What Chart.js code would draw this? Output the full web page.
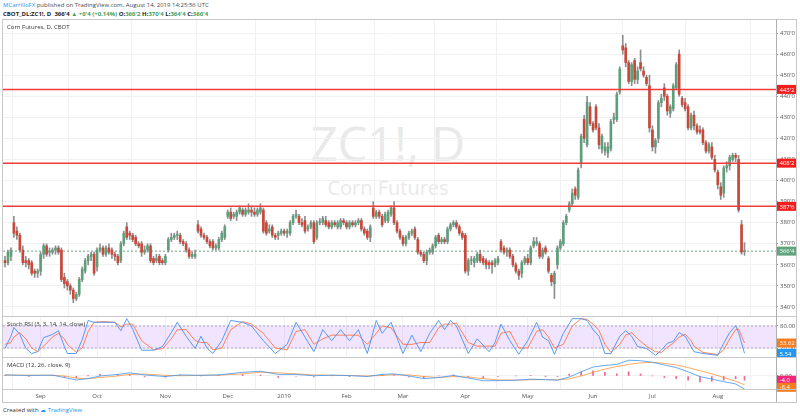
<!DOCTYPE html>
<html>
<head>
<meta charset="utf-8">
<script src="https://cdn.jsdelivr.net/npm/chart.js@4.4.1/dist/chart.umd.min.js"></script>
<style>
html,body{margin:0;padding:0;background:#fff;}
body{width:800px;height:419px;position:relative;overflow:hidden;font-family:"Open Sans","Liberation Sans",Arial,sans-serif;color:#333;}
.abs{position:absolute;white-space:nowrap;}
#hdr1{left:3px;top:1px;font-size:6px;color:#4a4a4a;}
#hdr1 .user{color:#2196f3;}
#hdr2{left:3px;top:10px;font-size:6px;color:#222;font-weight:700;}
#hdr2 .g{color:#3f9e5f;}
#title{left:7px;top:23px;font-size:6px;color:#333;z-index:5;}
#stTitle{left:7px;top:320px;font-size:6px;color:#333;z-index:5;}
#mdTitle{left:7px;top:361px;font-size:6px;color:#333;z-index:5;}
#wm1{left:0;width:776px;top:120px;text-align:center;font-size:47px;line-height:1;color:#e9e9e9;z-index:0;}
#wm2{left:0;width:776px;top:178px;text-align:center;font-size:20px;line-height:1;color:#e9e9e9;z-index:0;}
canvas{position:absolute;left:0;z-index:2;}
.ln{position:absolute;background:#c9c9c9;z-index:4;}
#credit{left:3px;top:406px;font-size:6px;color:#333;}
#credit .tv{color:#2196f3;}
</style>
</head>
<body>
<div id="hdr1" class="abs"><span class="user">MCarrilloFX</span> published on TradingView.com, August 14, 2019 14:25:56 UTC</div>
<div id="hdr2" class="abs">CBOT_DL:ZC1!, D&nbsp; 366'4 <span class="g">▲</span> <span class="g">+0'4 (+0.14%)</span> O:<span class="g">366'2</span> H:<span class="g">370'4</span> L:<span class="g">364'4</span> C:<span class="g">366'4</span></div>
<div id="wm1" class="abs">ZC1!, D</div>
<div id="wm2" class="abs">Corn Futures</div>
<div id="title" class="abs">Corn Futures, D, CBOT</div>
<div id="stTitle" class="abs">Stoch RSI (3, 3, 14, 14, close)</div>
<div id="mdTitle" class="abs">MACD (12, 26, close, 9)</div>

<canvas id="cMain" width="800" height="296" style="top:20px"></canvas>
<canvas id="cStoch" width="800" height="40" style="top:317px"></canvas>
<canvas id="cMacd" width="800" height="44" style="top:358px"></canvas>

<div class="ln" style="left:2px;top:19px;width:795px;height:1px"></div>
<div class="ln" style="left:2px;top:19px;width:1px;height:383px"></div>
<div class="ln" style="left:796px;top:19px;width:1px;height:383px"></div>
<div class="ln" style="left:2px;top:316px;width:795px;height:1px"></div>
<div class="ln" style="left:2px;top:357px;width:795px;height:1px"></div>
<div class="ln" style="left:2px;top:389px;width:795px;height:1px"></div>
<div class="ln" style="left:2px;top:402px;width:795px;height:1px"></div>
<div class="ln" style="left:776px;top:19px;width:1px;height:383px;background:#b0b0b0"></div>

<div id="credit" class="abs">Created with <span class="tv">☁ TradingView</span></div>

<script>
// ---------- DATA ----------
const openP = [
362,361,364,380,376,374,367,362,362,361,
357,356,357,365,369,366,366,367,368,367,
354,352,350,348,344,346,353,357,362,364,
365,359,367,368,365,368,367,365,364,362,
370,378,375,374,373,370,370,366,367,369,
363,362,364,362,361,367,372,373,374,374,
371,370,367,364,364,379,377,374,373,371,
371,368,368,372,373,383,385,383,383,385,
386,384,385,386,385,384,385,386,380,376,
378,374,374,375,376,375,375,380,383,383,
380,381,377,378,380,373,380,380,381,380,
378,380,378,378,381,380,378,380,379,380,
381,377,376,373,387,383,385,383,381,381,
384,387,380,376,373,370,373,375,377,372,
366,365,362,366,366,369,374,371,372,371,
377,379,380,378,375,374,357,362,361,362,
365,363,362,361,361,360,361,371,368,366,
367,364,360,357,356,361,363,361,369,370,
370,364,368,363,355,351,360,368,370,380,
386,389,396,392,408,429,417,435,427,435,
425,415,414,413,415,429,429,442,464,463,
456,447,457,448,456,452,449,445,424,416,
420,437,444,440,432,434,444,460,439,437,
435,425,431,426,424,424,418,414,416,410,
404,397,394,406,407,410,412,410,379,366.25];
const highP = [
364,367,368,383,378,375,369,364,363,362,
358,358,366,370,370,368,368,369,369,368,
356,353,351,349,347,354,359,363,365,366,
366,368,370,369,369,370,368,366,365,371,
376,380,376,375,374,371,371,369,370,370,
364,365,365,363,365,373,375,375,376,375,
372,371,368,366,367,381,378,375,374,372,
372,370,373,376,379,386,387,385,386,388,
387,387,389,388,387,387,389,387,381,379,
379,375,376,377,377,377,381,384,386,384,
382,383,379,381,381,381,382,383,383,381,
381,381,381,382,382,381,381,381,381,382,
382,378,377,379,390,386,386,384,385,386,
388,390,381,377,374,374,376,377,378,373,
367,366,367,368,370,374,375,373,373,378,
380,381,381,379,376,375,363,364,364,366,
367,364,363,362,362,363,364,372,369,368,
368,365,361,358,362,364,365,369,373,373,
371,368,369,364,356,357,369,372,381,384,
390,396,397,406,422,431,440,437,428,436,
427,422,418,418,429,432,442,454,469,465,
457,456,458,454,462,454,450,450,426,420,
438,441,446,441,436,446,456,462,440,439,
436,432,433,427,426,425,419,418,418,412,
405,399,407,409,412,413,413,412,381,370.5];
const lowP = [
359,360,362,373,372,366,360,359,358,355,
354,354,355,363,364,364,365,365,365,352,
349,348,346,342,343,345,352,356,360,362,
355,357,366,364,364,365,363,362,360,361,
369,372,372,371,369,368,364,365,366,361,
360,361,360,360,360,366,371,372,372,370,
369,366,363,363,363,375,373,372,370,368,
367,367,367,371,372,382,381,382,381,384,
383,383,384,383,383,383,384,375,374,375,
373,372,372,374,374,373,374,379,382,379,
378,375,376,377,370,372,379,379,378,377,
377,378,377,377,379,377,377,378,378,379,
376,374,372,371,382,382,382,378,380,380,
383,379,375,372,369,369,372,374,372,365,
364,361,360,365,365,368,370,370,370,370,
376,378,377,374,372,356,355,360,359,361,
361,360,358,358,356,359,360,366,365,364,
363,359,356,353,354,360,360,360,368,369,
363,363,365,356,350,344,358,367,369,379,
385,388,391,391,406,418,416,426,423,424,
415,413,412,411,414,427,428,441,460,454,
446,445,446,446,452,449,445,423,414,413,
418,435,438,431,430,433,443,440,435,433,
424,424,424,422,422,417,413,413,410,404,
396,391,392,404,405,409,409,385,365,364.5];
const closeP = [
361,366,367,375,374,367,361,361,360,356,
356,357,365,369,365,366,367,368,366,353,
351,350,348,344,346,353,358,362,364,365,
356,367,368,365,368,366,365,364,361,370,
375,373,374,372,370,369,366,367,369,362,
361,363,361,361,364,372,373,374,374,371,
370,367,364,365,365,376,374,373,371,369,
368,369,372,375,378,385,382,384,385,387,
384,386,386,385,384,386,387,376,375,377,
374,373,375,376,375,376,380,383,384,380,
379,376,378,380,371,380,380,382,379,378,
380,379,380,381,380,378,380,379,380,381,
377,375,373,378,383,385,383,379,384,385,
387,380,376,373,370,373,375,376,373,366,
365,362,366,367,369,373,371,372,371,377,
379,380,378,375,373,357,362,362,363,365,
362,361,360,360,360,362,363,367,366,367,
364,360,357,355,361,363,361,368,371,371,
364,367,366,357,352,356,368,371,380,383,
389,394,393,405,421,420,437,427,424,425,
417,421,416,416,428,430,441,453,462,456,
447,455,448,452,453,450,446,425,416,419,
437,439,440,433,435,445,455,441,436,434,
425,431,426,423,423,418,414,417,411,405,
398,393,406,407,411,412,411,386,366,366.5];

const levelValues = [443.25, 408.25, 387.75];
const levelTexts  = ["443'2", "408'2", "387'6"];
const lastValue = 366.5;
const lastText = "366'4";
const priceTicks = [340,350,360,370,380,390,400,410,420,430,440,450,460,470];

const monthIdx    = [12,31,54,75,94,115,134,155,176,198,218,240];
const monthLabels = ['Sep','Oct','Nov','Dec','2019','Feb','Mar','Apr','May','Jun','Jul','Aug'];

const stochIdx = [0,2,3,5,7,9,11,13,16,18,20,21,24,26,28,30,33,37,39,41,43,46,50,53,56,58,61,64,66,68,70,73,76,80,83,87,91,95,98,101,104,107,110,113,116,119,122,125,127,130,134,137,140,143,146,148,150,152,156,159,163,165,167,170,173,176,179,181,183,185,188,191,194,196,198,200,202,204,207,209,211,213,216,219,221,223,225,227,229,231,232,235,240,242,244,246,247,249];
const stochK = [19,52,76,57,19,5,10,48,57,67,24,5,5,43,95,90,90,90,67,100,71,14,14,24,62,90,52,19,52,20,5,40,95,90,80,40,5,30,90,50,10,70,40,70,40,70,5,95,60,90,5,55,10,60,95,70,95,80,5,45,10,35,85,40,3,40,90,50,40,3,60,100,100,95,70,52,5,5,52,67,52,24,19,0,14,33,38,62,52,24,10,5,0,33,62,81,62,5.54];
const stochD = [30,35,50,62,45,20,10,25,50,60,45,30,8,20,65,90,92,90,78,85,85,40,15,18,45,70,70,40,35,35,15,20,70,92,85,60,20,15,65,70,30,45,55,55,55,55,30,60,80,75,30,30,35,35,75,85,85,88,35,25,25,25,60,65,20,20,65,70,50,20,30,80,100,98,85,68,30,8,30,55,62,45,25,10,8,22,33,50,58,40,25,8,2,15,45,70,72,33.62];

const macdIdx    = [0,8,16,20,24,28,32,38,42,47,54,59,66,72,80,86,92,98,104,110,116,122,127,131,136,141,146,151,156,161,166,172,177,182,186,190,194,198,202,206,210,214,218,222,226,230,234,238,242,246,249];
const macdLine   = [1,0.5,0.8,-1.5,-3.8,-2.5,0,1.5,3,1,-0.6,1,0.6,1,3.5,4.5,1.5,1.5,0.2,0.8,0.3,-0.5,1.5,2,0,-2.5,-1.5,0.5,-2,-4.5,-4.5,-4,-3,-3.5,-4,-1,4,8.5,10,11,15,14.5,13,10.5,8,4,-0.6,-3,-5.4,-7.6,-12.4];
const signalLine = [0.8,0.7,0.6,0,-2,-2.6,-1.5,0,1.5,1.8,0.6,0.2,0.6,0.8,2,3.5,3,2,1,0.6,0.5,0,0.5,1.2,1,-0.5,-1.5,-0.6,-1,-2.5,-3.8,-4,-3.6,-3.4,-3.6,-2.8,0,3.5,6.5,9,11,12.5,13,12,10.5,8,5,2,-1.5,-5,-8.4];
const histVal    = [0.2,-0.2,0.2,-1.5,-1.8,0.1,1.5,1.5,1.5,-0.8,-1.2,0.8,0,0.2,1.5,1,-1.5,-0.5,-0.8,0.2,-0.2,-0.5,1,0.8,-1,-2,0,1.1,-1,-2,-0.7,0,0.6,-0.1,-0.4,1.8,4,5,3.5,2,4,2,0,-1.5,-2.5,-4,-5.6,-5,-3.9,-2.6,-4.0];

// ---------- STYLE ----------
const X_MIN = -0.67, X_MAX = 259.6;
const UP = '#5f9e7b', DOWN = '#c9483a', WICK = '#8e8e8e';
const GRID = '#f1f1f1';
const FONT = {family: '"Open Sans","Liberation Sans",sans-serif', size: 6};

const tagPlugin = {
  id: 'tags',
  afterDraw(chart, args, opts) {
    const tags = opts.items || [];
    const ctx = chart.ctx, ys = chart.scales.y, a = chart.chartArea;
    ctx.save();
    ctx.font = '6px "Open Sans","Liberation Sans",sans-serif';
    ctx.textBaseline = 'middle';
    ctx.textAlign = 'left';
    for (const t of tags) {
      const py = ys.getPixelForValue(t.value) + (t.dy || 0);
      ctx.fillStyle = t.color;
      ctx.fillRect(a.right + 1, py - 4.5, 19, 9);
      ctx.fillStyle = '#fff';
      ctx.fillText(t.text, a.right + 3.5, py + 0.5);
    }
    ctx.restore();
  }
};

function xAxis(showLabels) {
  return {
    type: 'linear', min: X_MIN, max: X_MAX, offset: false,
    afterBuildTicks: s => { s.ticks = monthIdx.map(v => ({value: v})); },
    afterFit: s => { s.height = showLabels ? 13 : 0; s.paddingLeft = 0; s.paddingRight = 0; },
    grid: {color: GRID, drawTicks: false},
    border: {display: false},
    ticks: {display: showLabels, autoSkip: false, maxRotation: 0, padding: 4, font: FONT, color: '#555',
            callback: (v, i) => monthLabels[i]}
  };
}
function yAxis(min, max, tickVals, fmt) {
  return {
    type: 'linear', position: 'right', min: min, max: max,
    afterBuildTicks: s => { s.ticks = tickVals.map(v => ({value: v})); },
    afterFit: s => { s.width = 24; s.paddingTop = 0; s.paddingBottom = 0; },
    grid: {color: GRID, tickColor: '#999', tickLength: 2},
    border: {display: false},
    ticks: {font: FONT, color: '#555', padding: 2, callback: fmt}
  };
}
const common = {
  responsive: false, animation: false, events: [],
  layout: {padding: {left: 3, right: 0, top: 0, bottom: 0}},
};

// ---------- MAIN ----------
const idx = closeP.map((_, i) => i);
const isUp = idx.map(i => closeP[i] >= openP[i]);
const span = v => [{x: X_MIN, y: v}, {x: X_MAX, y: v}];

new Chart(document.getElementById('cMain'), {
  type: 'bar',
  data: {datasets: [
    ...levelValues.map(v => ({type: 'line', data: span(v), borderColor: '#f23b3b', borderWidth: 1.5, pointRadius: 0, order: 0})),
    {type: 'line', data: span(lastValue), borderColor: '#6ba583', borderWidth: 1, borderDash: [2, 2], pointRadius: 0, order: 3},
    {data: idx.map(i => ({x: i, y: [lowP[i], highP[i]]})), backgroundColor: WICK, barThickness: 1, grouped: false, order: 2},
    {data: idx.map(i => ({x: i, y: [openP[i], closeP[i]]})), backgroundColor: idx.map(i => isUp[i] ? UP : DOWN),
     barThickness: 2, minBarLength: 1, grouped: false, order: 1}
  ]},
  options: {...common,
    plugins: {legend: {display: false}, tooltip: {enabled: false},
      tags: {items: [
        ...levelValues.map((v, k) => ({value: v, text: levelTexts[k], color: '#f21d1d'})),
        {value: lastValue, text: lastText, color: '#5fa47b'}
      ]}},
    scales: {x: xAxis(false), y: yAxis(335.7, 476.2, priceTicks, v => v + "'0")}
  },
  plugins: [tagPlugin]
});

// ---------- STOCH RSI ----------
new Chart(document.getElementById('cStoch'), {
  type: 'line',
  data: {datasets: [
    {data: span(80), borderColor: 'rgba(140,120,170,0.6)', borderWidth: 1, borderDash: [2, 2], pointRadius: 0, order: 10},
    {data: span(20), borderColor: 'rgba(140,120,170,0.6)', borderWidth: 1, borderDash: [2, 2], pointRadius: 0,
     fill: '-1', backgroundColor: 'rgba(170,90,255,0.16)', order: 9},
    {data: stochIdx.map((x, k) => ({x: x, y: stochD[k]})), borderColor: 'rgba(255,110,60,0.85)', borderWidth: 1, pointRadius: 0, order: 2},
    {data: stochIdx.map((x, k) => ({x: x, y: stochK[k]})), borderColor: 'rgba(60,140,245,0.85)', borderWidth: 1, pointRadius: 0, order: 1}
  ]},
  options: {...common,
    plugins: {legend: {display: false}, tooltip: {enabled: false},
      tags: {items: [
        {value: stochD[stochD.length - 1], text: stochD[stochD.length - 1].toFixed(2), color: '#f57c1f'},
        {value: stochK[stochK.length - 1], text: stochK[stochK.length - 1].toFixed(2), color: '#2196f3'}
      ]}},
    scales: {x: xAxis(false), y: yAxis(-4.5, 104.5, [20, 80], v => v.toFixed(2))}
  },
  plugins: [tagPlugin]
});

// ---------- MACD ----------
new Chart(document.getElementById('cMacd'), {
  type: 'bar',
  data: {datasets: [
    {type: 'line', data: macdIdx.map((x, k) => ({x: x, y: signalLine[k]})), borderColor: 'rgba(255,150,60,0.8)', borderWidth: 1, pointRadius: 0, order: 2},
    {type: 'line', data: macdIdx.map((x, k) => ({x: x, y: macdLine[k]})), borderColor: 'rgba(60,150,245,0.8)', borderWidth: 1, pointRadius: 0, order: 1},
    {data: macdIdx.map((x, k) => ({x: x, y: histVal[k]})), backgroundColor: '#f0628f', barThickness: 1, order: 3}
  ]},
  options: {...common,
    plugins: {legend: {display: false}, tooltip: {enabled: false},
      tags: {items: [
        {value: histVal[histVal.length - 1], text: histVal[histVal.length - 1].toFixed(1), color: '#f0287a'},
        {value: signalLine[signalLine.length - 1], text: signalLine[signalLine.length - 1].toFixed(1), color: '#f57c1f', dy: 2.5}
      ]}},
    scales: {x: xAxis(true), y: yAxis(-12.4, 17.1, [0], v => v.toFixed(2))}
  },
  plugins: [tagPlugin]
});
</script>
</body>
</html>
